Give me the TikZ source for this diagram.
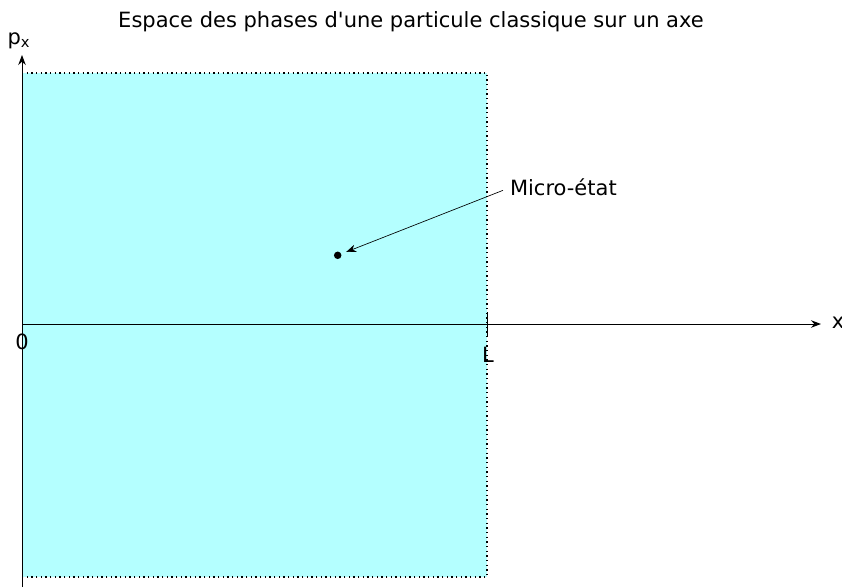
\documentclass[tikz,border=0pt]{standalone}
\usepackage{fontspec}
\setmainfont{DejaVu Sans}
\usetikzlibrary{arrows.meta,positioning}
\definecolor{cyanclair}{RGB}{180,255,255}
\tikzset{
  fond/.style={fill=cyanclair,draw=none},
  bord/.style={dotted,thick},
  axe/.style={-{Stealth[length=6pt,width=4.5pt]},semithick},
  fleche/.style={-{Stealth[length=6pt,width=4.5pt]}},
  point/.style={circle,fill,inner sep=0pt,minimum size=4.5pt},
  etiq/.style={inner sep=1pt},
}

\begin{document}
\begin{tikzpicture}[x=0.6pt,y=-0.6pt,font=\fontsize{12.6}{15}\selectfont]
  \useasboundingbox (0,0) rectangle (842,587);
  % zone accessible
  \fill[fond] (22,73) rectangle (487,577);
  \draw[bord] (22,73) -- (487,73) -- (487,577) -- (22,577);
  % axes
  \coordinate (orig) at (22,324);
  \coordinate (bas) at (22,587);
  \coordinate (xfin) at (821,324);
  \coordinate (pfin) at (22,55);
  \coordinate (Lh) at (487,312);
  \coordinate (Lb) at (487,336);
  \draw[axe] (orig) -- (xfin);
  \draw[axe] (bas) -- (pfin);
  \draw[semithick] (Lh) -- (Lb);
  \node[etiq] (x) at (838,323) {x};
  \node[etiq] (px) at (19,41) {p\textsubscript{x}};
  \node[etiq] (zero) at (22,342) {0};
  \node[etiq] (L) at (488,355) {L};
  % micro-etat
  \node[point] (etat) at (337.7,255.3) {};
  \node[etiq,anchor=west] (micro) at (508,187) {Micro-état};
  \coordinate (depart) at ([xshift=-3pt,yshift=-2pt]micro.west);
  \draw[fleche,shorten >=3pt] (depart) -- (etat);
  \node[etiq] (titre) at (411,22) {Espace des phases d\textquotesingle une particule classique sur un axe};
\end{tikzpicture}
\end{document}
